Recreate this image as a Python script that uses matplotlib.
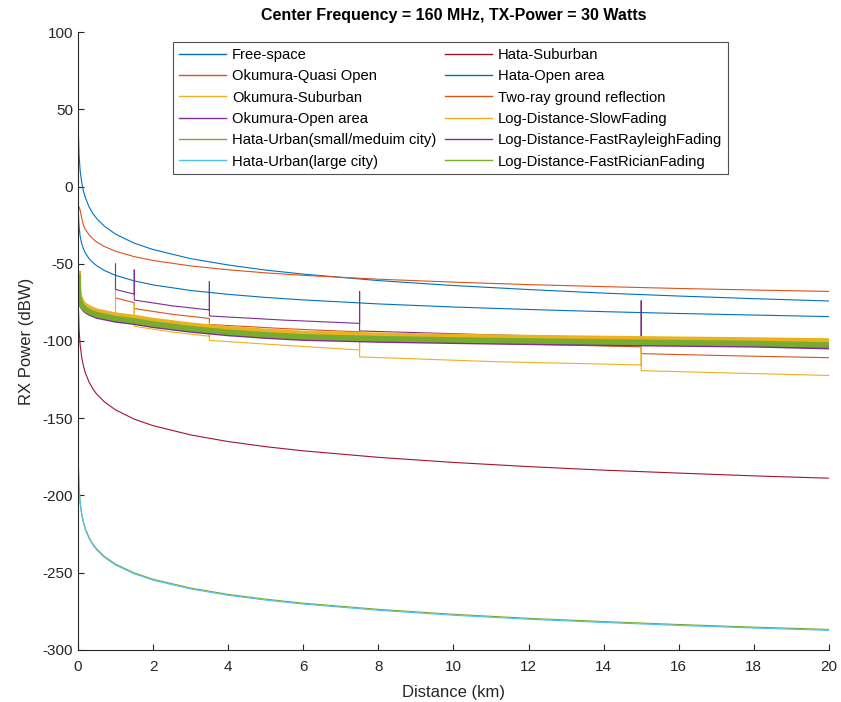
import numpy as np
import matplotlib
matplotlib.use("Agg")
import matplotlib.pyplot as plt

plt.rcParams['font.family'] = ['Liberation Sans', 'DejaVu Sans']
plt.rcParams['axes.unicode_minus'] = False

# distance samples (km)
dist = [0.001, 0.003, 0.01, 0.03, 0.06, 0.1, 0.15, 0.2, 0.3, 0.4, 0.5, 0.7,
        1, 1.5, 2, 3, 4, 5, 6, 8, 10, 12, 14, 16, 18, 20]

free_space = [4.0, -5.8, -16.5, -26.3, -32.5, -37.0, -40.6, -43.2, -46.8, -49.3, -51.3, -54.3,
              -57.5, -61.1, -63.7, -67.3, -69.8, -71.8, -73.4, -76.0, -78.0, -79.6, -81.0, -82.2, -83.2, -84.2]
hata_open = [69.1, 53.2, 35.8, 19.9, 9.9, 2.5, -3.4, -7.5, -13.4, -17.5, -20.8, -25.6,
             -30.8, -36.7, -40.8, -46.7, -50.8, -54.1, -56.7, -60.9, -64.1, -66.7, -69.0, -70.9, -72.6, -74.1]
two_ray = [-12.0, -12.3, -12.6, -13.2, -15.5, -20.5, -25.4, -27.9, -31.4, -33.9, -35.9, -38.8,
           -41.9, -45.4, -47.9, -51.4, -53.9, -55.9, -57.5, -60.0, -61.9, -63.5, -64.8, -66.0, -67.0, -67.9]
hata_suburban = [-42.6, -58.8, -76.6, -92.8, -103.0, -110.6, -116.6, -120.8, -126.8, -131.1, -134.4, -139.3,
                 -144.6, -150.6, -154.8, -160.8, -165.1, -168.4, -171.1, -175.3, -178.6, -181.3, -183.6, -185.5, -187.3, -188.8]
hata_urban_large = [-147.5, -163.0, -180.0, -195.5, -205.3, -212.5, -218.2, -222.3, -228.0, -232.1, -235.2, -240.0,
                    -245.0, -250.7, -254.8, -260.5, -264.6, -267.7, -270.3, -274.3, -277.5, -280.1, -282.2, -284.1, -285.8, -287.3]
hata_urban_small = [-146.9, -162.4, -179.4, -194.9, -204.7, -211.9, -217.6, -221.7, -227.4, -231.5, -234.6, -239.4,
                    -244.4, -250.1, -254.2, -259.9, -264.0, -267.1, -269.7, -273.7, -276.9, -279.5, -281.6, -283.5, -285.2, -286.7]

# log-distance fading curves (noisy band)
slow_fading = [-56.5, -62.5, -67.5, -71.0, -73.0, -75.0, -76.5, -77.5, -79.0, -80.0, -81.0, -82.0,
               -83.5, -85.0, -87.0, -90.0, -92.3, -94.0, -95.3, -96.5, -97.3, -98.0, -98.6, -99.1, -99.6, -100.2]
rician_fading = [-58.5, -64.5, -69.5, -73.0, -75.0, -77.0, -78.5, -79.5, -81.0, -82.0, -83.0, -84.0,
                 -85.5, -87.0, -89.0, -92.0, -94.3, -96.0, -97.3, -98.5, -99.3, -100.0, -100.6, -101.1, -101.6, -102.6]
rayleigh_fading = [-60.5, -66.5, -71.5, -75.0, -77.0, -79.0, -80.5, -81.5, -83.0, -84.0, -85.0, -86.0,
                   -87.5, -89.0, -91.0, -94.0, -96.3, -98.0, -99.3, -100.5, -101.3, -102.0, -102.6, -103.1, -103.6, -104.8]

# Okumura step curves (start at 1 km)
oku_open_d = [1, 1, 1.25, 1.5, 1.5, 1.5, 2.5, 3.5, 3.5, 3.5, 5.5, 7.5, 7.5, 7.5, 11, 15, 15, 15, 17.5, 20]
oku_open = [-50, -66.6, -68.2, -69.6, -54, -73.5, -77.2, -79.9, -61.5, -83.8, -86.5, -88.6, -68, -93.5,
            -96.0, -98.3, -74, -101.5, -102.8, -104.0]
oku_quasi_d = [1, 1.25, 1.5, 1.5, 2.5, 3.5, 3.5, 5.5, 7.5, 7.5, 11, 15, 15, 17.5, 20]
oku_quasi = [-72.1, -73.7, -75.1, -79.0, -82.7, -85.4, -89.3, -92.0, -94.1, -99.0, -101.5, -103.8,
             -108.2, -109.6, -110.8]
oku_sub_d = [1, 1, 1.25, 1.5, 1.5, 1.5, 2.5, 3.5, 3.5, 3.5, 5.5, 7.5, 7.5, 7.5, 11, 15, 15, 15, 17.5, 20]
oku_sub = [-67, -83.6, -85.2, -86.6, -76, -90.5, -94.2, -96.9, -88.6, -99.6, -102.8, -105.8, -94, -110.3,
           -113.3, -115.5, -98, -119.2, -120.8, -122.3]

c_blue = '#0072BD'
c_orange = '#D95319'
c_yellow = '#EDB120'
c_purple = '#7E2F8E'
c_green = '#77AC30'
c_cyan = '#4DBEEE'
c_red = '#A2142F'

fig = plt.figure(figsize=(8.41, 7.02), dpi=100)
ax = fig.add_axes([0.0927, 0.0741, 0.893, 0.8803])

lw = 0.8
ax.plot(dist, free_space, color=c_blue, lw=lw, label='Free-space')
ax.plot(oku_quasi_d, oku_quasi, color=c_orange, lw=lw, label='Okumura-Quasi Open')
ax.plot(oku_sub_d, oku_sub, color=c_yellow, lw=lw, label='Okumura-Suburban')
ax.plot(oku_open_d, oku_open, color=c_purple, lw=lw, label='Okumura-Open area')
ax.plot(dist, hata_urban_small, color=c_green, lw=lw, label='Hata-Urban(small/meduim city)')
ax.plot(dist, hata_urban_large, color=c_cyan, lw=lw, label='Hata-Urban(large city)')
ax.plot(dist, hata_suburban, color=c_red, lw=lw, label='Hata-Suburban')
ax.plot(dist, hata_open, color=c_blue, lw=lw, label='Hata-Open area')
ax.plot(dist, two_ray, color=c_orange, lw=lw, label='Two-ray ground reflection')
ax.plot(dist, slow_fading, color=c_yellow, lw=4.5, label='Log-Distance-SlowFading')
ax.plot(dist, rayleigh_fading, color=c_purple, lw=1.5, label='Log-Distance-FastRayleighFading')
ax.plot(dist, rician_fading, color=c_green, lw=4.0, label='Log-Distance-FastRicianFading')

ax.set_xlim(0, 20)
ax.set_ylim(-300, 100)
ax.set_xticks(np.arange(0, 21, 2))
ax.set_yticks(np.arange(-300, 101, 50))
for s in ['top', 'right']:
    ax.spines[s].set_visible(False)
for s in ['left', 'bottom']:
    ax.spines[s].set_color('#262626')
    ax.spines[s].set_linewidth(0.8)
ax.tick_params(direction='in', length=4, width=0.8, colors='#262626', labelsize=11)
ax.tick_params(axis='x', pad=7)

ax.set_xlabel('Distance (km)', fontsize=12, color='#262626', labelpad=8)
ax.set_ylabel('RX Power (dBW)', fontsize=12, color='#262626', labelpad=6)
ax.set_title('Center Frequency = 160 MHz, TX-Power = 30 Watts', fontsize=11.5,
             fontweight='bold', pad=9)

handles, labels = ax.get_legend_handles_labels()
leg_handles = [plt.Line2D([], [], color=h.get_color(), lw=1.0) for h in handles]
leg = ax.legend(leg_handles, labels, ncol=2, loc='upper left', bbox_to_anchor=(0.1265, 0.984),
                borderaxespad=0, fontsize=10.6, frameon=True, fancybox=False, edgecolor='#262626',
                handlelength=3.2, handletextpad=0.4, columnspacing=0.6, labelspacing=0.5,
                borderpad=0.4)
leg.get_frame().set_linewidth(0.8)

fig.savefig('out.png', dpi=100)
